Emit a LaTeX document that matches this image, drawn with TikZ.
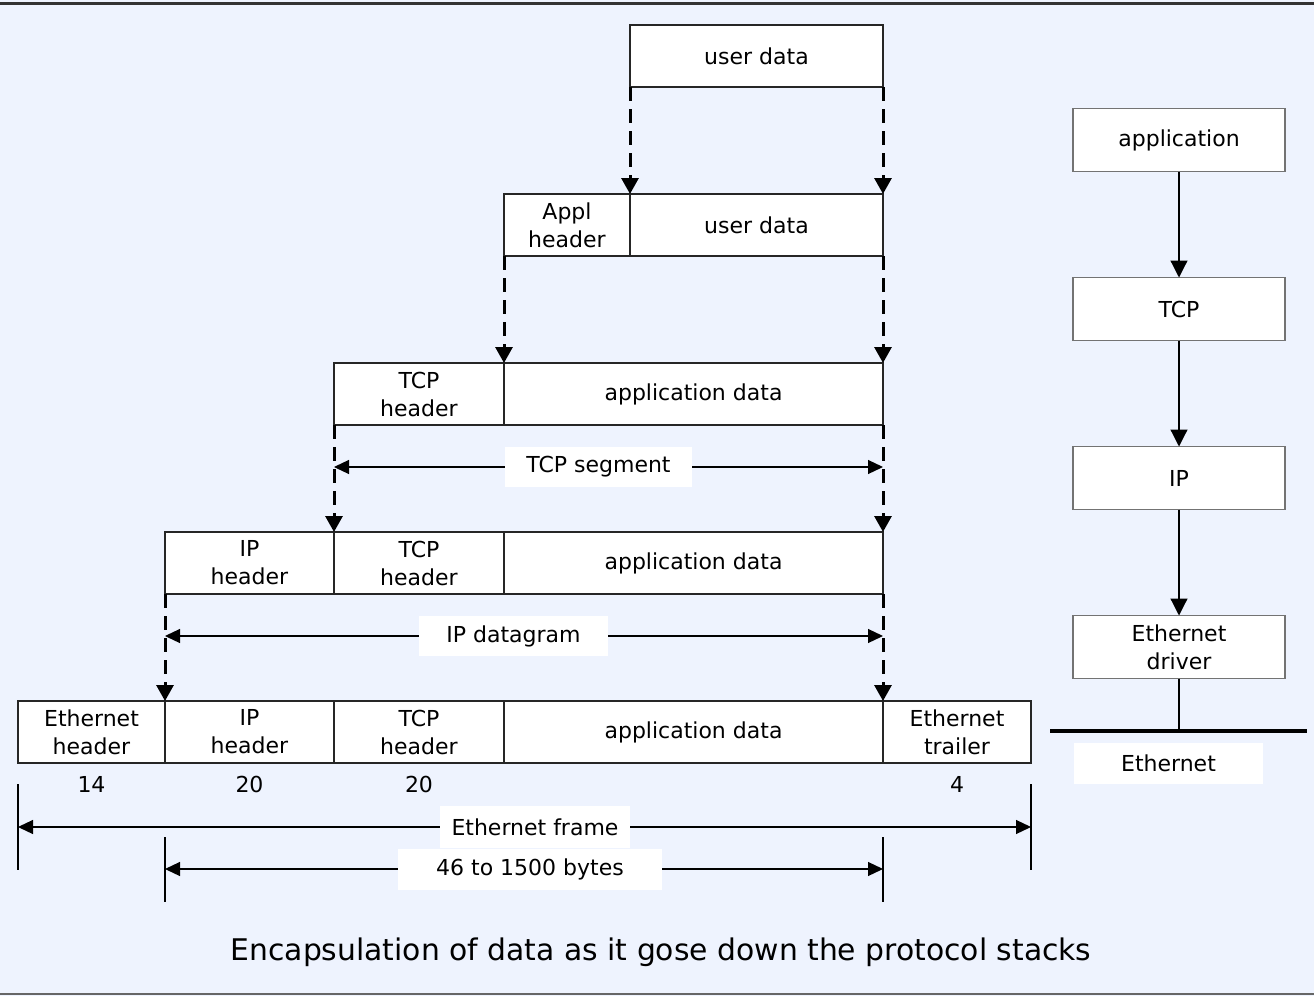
\documentclass[tikz,border=0pt]{standalone}
\usepackage{fontspec}
\setmainfont{DejaVu Sans}
\usetikzlibrary{positioning,arrows.meta}

\definecolor{bgblue}{RGB}{238,243,254}

\tikzset{
  cell/.style={draw=black!85, fill=white, line width=0.6pt, minimum height=31pt,
    inner sep=0pt, outer sep=0pt, align=center, font=\fontsize{11}{14}\selectfont},
  layer/.style={draw=black!55, fill=white, line width=0.6pt, minimum width=106pt,
    minimum height=31.5pt, inner sep=0pt, outer sep=0pt, align=center,
    font=\fontsize{11}{14}\selectfont},
  tag/.style={fill=white, inner sep=0pt, minimum height=20pt,
    font=\fontsize{11}{14}\selectfont},
  num/.style={font=\fontsize{11}{14}\selectfont},
  cascade/.style={line width=1.5pt, dash pattern=on 6.75pt off 4.25pt,
    -{Triangle[width=8.5pt,length=8pt]}},
  span/.style={line width=0.6pt, -{Triangle[width=7pt,length=7.5pt]}},
  down/.style={line width=0.6pt, -{Triangle[width=8.5pt,length=8.5pt]}},
}

\begin{document}
\begin{tikzpicture}[x=0.5pt, y=-0.5pt]

    % background and frame lines
    \useasboundingbox (0,0) rectangle (1314,996);
    \fill[bgblue] (0,0) rectangle (1314,996);
    \draw[line width=1.5pt, black!80] (0,3) -- (1314,3);
    \draw[line width=1pt, black!60] (0,994) -- (1314,994);

    % these are the packet rows
    \node[cell, minimum width=126.5pt] (ud1) at (756.5,56) {user data};

    \node[cell, minimum width=63pt] (ah2) at (567,225) {Appl\\header};
    \node[cell, minimum width=126.5pt, right=0pt of ah2] (ud2) {user data};

    \node[cell, minimum width=85pt] (th3) at (419,394) {TCP\\header};
    \node[cell, minimum width=189.5pt, right=0pt of th3] (ad3) {application data};

    \node[cell, minimum width=84.5pt] (ih4) at (249.5,563) {IP\\header};
    \node[cell, minimum width=85pt, right=0pt of ih4] (th4) {TCP\\header};
    \node[cell, minimum width=189.5pt, right=0pt of th4] (ad4) {application data};

    \node[cell, minimum width=73.5pt] (eh5) at (91.5,732) {Ethernet\\header};
    \node[cell, minimum width=84.5pt, right=0pt of eh5] (ih5) {IP\\header};
    \node[cell, minimum width=85pt, right=0pt of ih5] (th5) {TCP\\header};
    \node[cell, minimum width=189.5pt, right=0pt of th5] (ad5) {application data};
    \node[cell, minimum width=74pt, right=0pt of ad5] (et5) {Ethernet\\trailer};

    % dashed arrows down the rows
    \draw[cascade] (ud1.south west) -- (ud2.north west);
    \draw[cascade] (ud1.south east) -- (ud2.north east);
    \draw[cascade] (ah2.south west) -- (th3.north east -| ah2.west);
    \draw[cascade] (ud2.south east) -- (ad3.north east);
    \draw[cascade] (th3.south west) -- (th4.north west);
    \draw[cascade] (ad3.south east) -- (ad4.north east);
    \draw[cascade] (ih4.south west) -- (ih5.north west);
    \draw[cascade] (ad4.south east) -- (ad5.north east);

    % spans
    \node[tag, minimum width=93.5pt] (seg) at (598.5,467) {TCP segment};
    \draw[span] (seg.west) -- (seg.west -| th3.west);
    \draw[span] (seg.east) -- (seg.east -| ad3.east);

    \node[tag, minimum width=94.5pt] (dgm) at (513.5,636) {IP datagram};
    \draw[span] (dgm.west) -- (dgm.west -| ih4.west);
    \draw[span] (dgm.east) -- (dgm.east -| ad4.east);

    % byte counts
    \node[num] (n14) at (91.5,784) {14};
    \node[num] (n20a) at (249.5,784) {20};
    \node[num] (n20b) at (419,784) {20};
    \node[num] (n4) at (957,784) {4};

    \draw[line width=0.6pt] (eh5.south west) ++(0,21) -- ++(0,86);
    \draw[line width=0.6pt] (et5.south east) ++(0,21) -- ++(0,86);
    \draw[line width=0.6pt] (ih5.south west) ++(0,74) -- ++(0,65);
    \draw[line width=0.6pt] (ad5.south east) ++(0,74) -- ++(0,65);

    \node[tag, minimum width=95pt, minimum height=21pt] (frm) at (535,827) {Ethernet frame};
    \draw[span] (frm.west) -- (frm.west -| eh5.west);
    \draw[span] (frm.east) -- (frm.east -| et5.east);

    \node[tag, minimum width=132pt, minimum height=20.5pt] (byt) at (530,869) {46 to 1500 bytes};
    \draw[span] (byt.west) -- (byt.west -| ih5.west);
    \draw[span] (byt.east) -- (byt.east -| ad5.east);

    % protocol stack
    \node[layer] (app) at (1179,140) {application};
    \node[layer, below=53pt of app] (tcp) {TCP};
    \node[layer, below=53pt of tcp] (ip) {IP};
    \node[layer, below=53pt of ip] (drv) {Ethernet\\driver};

    \draw[down] (app) -- (tcp);
    \draw[down] (tcp) -- (ip);
    \draw[down] (ip) -- (drv);

    \coordinate (busL) at (1050,731);
    \coordinate (busR) at (1307,731);
    \draw[line width=0.6pt] (drv.south) -- (drv.south |- busL);
    \draw[line width=2pt] (busL) -- (busR);
    \node[tag, minimum width=94.5pt, minimum height=20.5pt] (bus) at (1168.5,763.5) {Ethernet};

    % caption
    \node[font=\fontsize{14.9}{17}\selectfont] (cap) at (661,952)
      {Encapsulation of data as it gose down the protocol stacks};

\end{tikzpicture}
\end{document}
